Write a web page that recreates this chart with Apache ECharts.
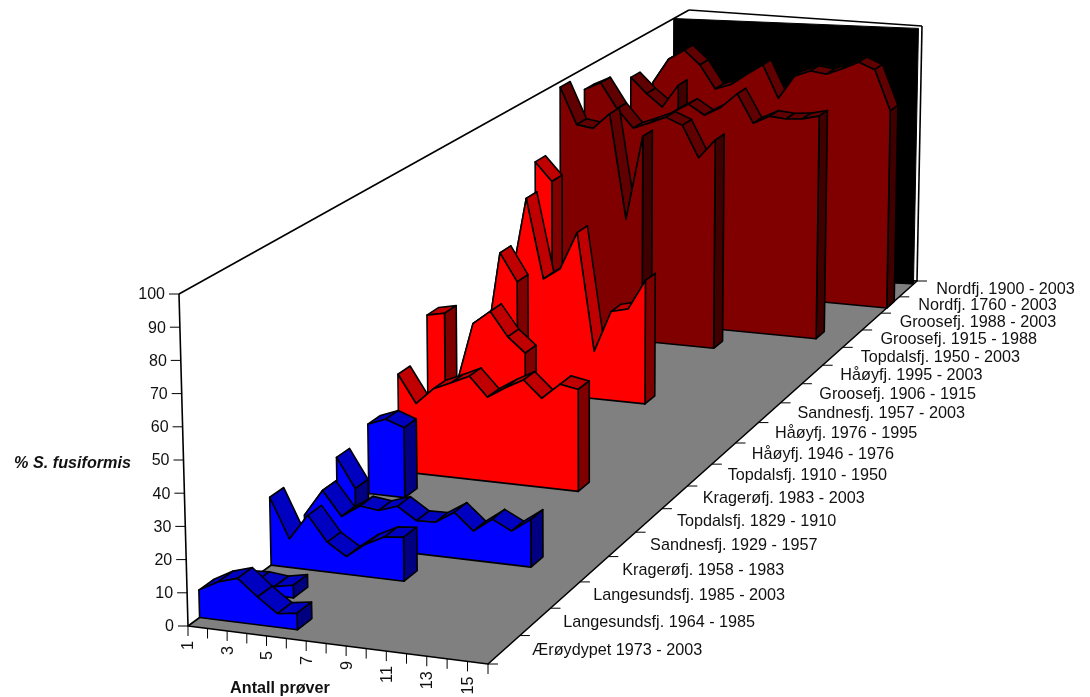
<!DOCTYPE html>
<html><head><meta charset="utf-8">
<style>html,body{margin:0;padding:0;background:#fff}#c{width:1090px;height:697px}</style>
<script src="https://cdn.jsdelivr.net/npm/echarts@6/dist/echarts.min.js"></script>
</head><body><div id="c"></div>
<script>
const depthLabels = ["Ærøydypet 1973 - 2003","Langesundsfj. 1964 - 1985","Langesundsfj. 1985 - 2003","Kragerøfj. 1958 - 1983","Sandnesfj. 1929 - 1957","Topdalsfj. 1829 - 1910","Kragerøfj. 1983 - 2003","Topdalsfj. 1910 - 1950","Håøyfj. 1946 - 1976","Håøyfj. 1976 - 1995","Sandnesfj. 1957 - 2003","Groosefj. 1906 - 1915","Håøyfj. 1995 - 2003","Topdalsfj. 1950 - 2003","Groosefj. 1915 - 1988","Groosefj. 1988 - 2003","Nordfj. 1760 - 2003","Nordfj. 1900 - 2003"];
const valueTicks = [0,10,20,30,40,50,60,70,80,90,100];
const sampleTicks = [1,3,5,7,9,11,13,15];
const s00 = [8.3,11.5,13.3,8.4,4.1,5];
const s01 = [3,3.3,2.7,3.9];
const s02 = [21.3,8.9,17,9.3,5.5,10,13,13.6];
const s03 = [8,16.6,9,13,12.3,14.3,10.4,10.6,14.4,9.2,13.6,10.6,14.9];
const s04 = [19.2,9.7];
const s05 = [22.9,25.2,23];
const s06 = [32.6,23.4,29,31.6,34.4,28,31.8,35,29.5,34.8,33.7];
const s07 = [46,47.2];
const s08 = [15,37.2,42,33.8,28.8];
const s09 = [16,55.6,46];
const s10 = [36,69,40.8,45,58.4,16.8,31.5,33,43.6];
const s11 = [76,69.4];
const s12 = [98,84.7,83.8,89.6,51.4,82.3];
const s13 = [92,95,85.8,79,81.4,84,81.5,69.9,77];
const s14 = [70,70,70,75,80,83.7,80,83.4,89,78.4,81.5,81,81.5,83];
const s15 = [86.5,80.7,76,84.8];
const s16 = [79.5,89,93,87.7,78.8,81,85.4,89.5,77,86,88.5,87.7,90.3,93.2,90.8,75.5];
const s17 = [];
const ribbons = [s00,s01,s02,s03,s04,s05,s06,s07,s08,s09,s10,s11,s12,s13,s14,s15,s16,s17];
const BLUE={front:'#0000ff',top:'#0000c0',side:'#000080'};
const RED={front:'#ff0000',top:'#c00000',side:'#800000'};
const DARK={front:'#800000',top:'#600000',side:'#400000'};
const palette = i => i<6?BLUE:(i<12?RED:DARK);

function quadMap(q){
  const [x0,y0]=q[0],[x1,y1]=q[1],[x2,y2]=q[2],[x3,y3]=q[3];
  const dx1=x1-x2,dx2=x3-x2,sx=x0-x1+x2-x3,dy1=y1-y2,dy2=y3-y2,sy=y0-y1+y2-y3;
  const den=dx1*dy2-dx2*dy1,g=(sx*dy2-dx2*sy)/den,h=(dx1*sy-sx*dy1)/den;
  const a=x1-x0+g*x1,b=x3-x0+h*x3,d=y1-y0+g*y1,e=y3-y0+h*y3;
  return (u,v)=>{const w=g*u+h*v+1;return [(a*u+b*v+x0)/w,(d*u+e*v+y0)/w];};
}
const floorMap=quadMap([[188,626],[488,664],[917,281],[687.7,260]]);
const topMap=quadMap([[179,294],[485.5,324],[922,26],[689,10]]);
const NX=15,NZ=18,F1=0.31,F2=0.72;
function proj(x,depth,val){
  const u=(x-1)/NX,v=depth/NZ,a=floorMap(u,v),b=topMap(u,v),t=val/100;
  return [a[0]+(b[0]-a[0])*t,a[1]+(b[1]-a[1])*t];
}
const LW=1.6;
function poly(api,pts,fill,z){
  return {type:'polygon',z2:z||0,shape:{points:pts.map(p=>api.coord(p))},style:{fill:fill,stroke:'#000',lineWidth:LW,lineJoin:'round'}};
}
function line(api,a,b,w){
  const p=api.coord(a),q=api.coord(b);
  return {type:'line',shape:{x1:p[0],y1:p[1],x2:q[0],y2:q[1]},style:{stroke:'#000',lineWidth:w||LW}};
}
function text(api,p,str,align,vAlign,rot,font){
  const c=api.coord(p);
  return {type:'text',x:c[0],y:c[1],rotation:rot||0,style:{text:str,fill:'#111',font:font||'16.2px "Liberation Sans"',align:align,verticalAlign:vAlign}};
}
function renderFrame(params,api){
  const ch=[];
  ch.push(poly(api,[proj(1,0,0),proj(16,0,0),proj(16,NZ,0),proj(1,NZ,0)],'#808080'));
  ch.push({type:'polygon',shape:{points:[proj(1,17.27,100),proj(16,17.8,100),proj(16,17.8,0),proj(1,17.27,0)].map(p=>api.coord(p))},style:{fill:'#000',stroke:'#000',lineWidth:1}});
  ch.push(line(api,proj(1,0,0),proj(1,0,100)));
  ch.push(line(api,proj(1,0,100),proj(1,NZ,100)));
  ch.push(line(api,proj(1,NZ,100),proj(16,NZ,100)));
  ch.push(line(api,proj(16,NZ,100),proj(16,NZ,0)));
  valueTicks.forEach(v=>{
    const p=proj(1,0,v);
    ch.push(line(api,[p[0]-10,p[1]],p,1));
    ch.push(text(api,[p[0]-14,p[1]+1],String(v),'right','middle',0,'16px "Liberation Sans"'));
  });
  for(let x=1;x<=16;x++){
    const p=proj(x,0,0);
    ch.push(line(api,p,[p[0],p[1]+10],1));
  }
  sampleTicks.forEach(x=>{
    const p=proj(x,0,0);
    ch.push(text(api,[p[0]+1,p[1]+15],String(x),'right','middle',Math.PI/2));
  });
  for(let i=0;i<=NZ;i++){
    const p=proj(16,i,0);
    ch.push(line(api,p,[p[0]+10,p[1]],1));
  }
  depthLabels.forEach((s,i)=>{
    const p=proj(16,i+0.5,0);
    ch.push(text(api,[p[0]+28,p[1]+1],s,'left','middle'));
  });
  ch.push(text(api,[131,464],'% S. fusiformis','right','middle',0,'italic bold 16.2px "Liberation Sans"'));
  ch.push(text(api,[280,689],'Antall prøver','center','middle',0,'bold 16.2px "Liberation Sans"'));
  return {type:'group',children:ch};
}
function renderRibbon(idx){
  const vals=ribbons[idx],col=palette(idx),d1=idx+F1,d2=idx+F2;
  return function(params,api){
    const i=params.dataIndex,ch=[],x=api.value(0),v=api.value(1);
    if(i>0){
      const pv=vals[i-1];
      ch.push(poly(api,[proj(x-1,d1,pv),proj(x,d1,v),proj(x,d2,v),proj(x-1,d2,pv)],col.top));
    }
    if(i===vals.length-1){
      ch.push(poly(api,[proj(x,d1,v),proj(x,d2,v),proj(x,d2,0),proj(x,d1,0)],col.side));
      const pts=vals.map((w,k)=>proj(k+1,d1,w));
      pts.push(proj(x,d1,0),proj(1,d1,0));
      ch.push(poly(api,pts,col.front));
    }
    return {type:'group',children:ch};
  };
}
const series=[{type:'custom',name:'frame',silent:true,clip:false,data:[[0,0]],renderItem:renderFrame,z:1}];
for(let i=NZ-1;i>=0;i--){
  if(!ribbons[i].length) continue;
  series.push({type:'custom',name:depthLabels[i],silent:true,clip:false,z:2,
    data:ribbons[i].map((v,k)=>[k+1,v]),encode:{x:0,y:1},renderItem:renderRibbon(i)});
}
const chart=echarts.init(document.getElementById('c'),null,{renderer:'canvas'});
chart.setOption({animation:false,backgroundColor:'#fff',
  grid:{left:0,right:0,top:0,bottom:0},
  xAxis:{type:'value',min:0,max:1090,show:false},
  yAxis:{type:'value',min:0,max:697,inverse:true,show:false},
  tooltip:{show:false},legend:{show:false},
  series:series});
</script></body></html>
